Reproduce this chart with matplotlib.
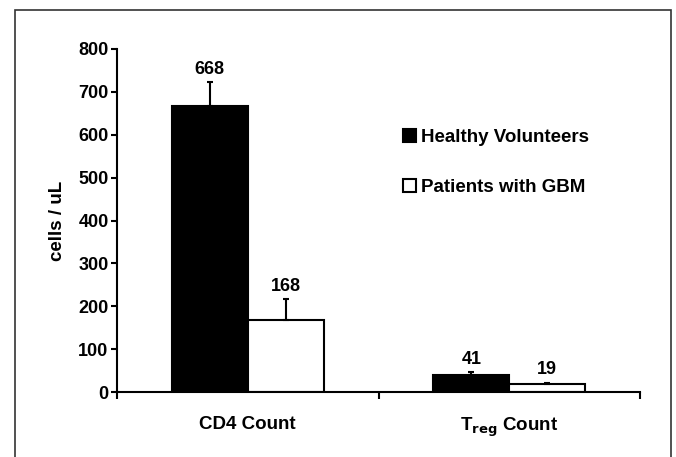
import matplotlib
matplotlib.use('Agg')
import matplotlib.pyplot as plt
import numpy as np
from matplotlib.patches import Rectangle

plt.rcParams['font.family'] = ['Liberation Sans', 'DejaVu Sans']
plt.rcParams['font.weight'] = 'bold'

# counts in cells / uL, with upper error bars
groups = ['CD4 Count', r'T$_{\mathbf{reg}}$ Count']
healthy = [668, 41]
healthy_err = [55, 5]
patients = [168, 19]
patients_err = [49, 3]
series_names = ['Healthy Volunteers', 'Patients with GBM']

fig = plt.figure(figsize=(6.76, 4.57), dpi=100)
ax = fig.add_axes([0.173, 0.142, 0.774, 0.751])

x = np.arange(len(groups))
w = 0.29
lw = 1.5

ax.bar(x - w/2, healthy, w, color='black', edgecolor='black', linewidth=lw,
       label=series_names[0], zorder=2)
ax.bar(x + w/2, patients, w, color='white', edgecolor='black', linewidth=lw,
       label=series_names[1], zorder=2)
ax.errorbar(x - w/2, healthy, yerr=[np.zeros(2), healthy_err], fmt='none',
            ecolor='black', elinewidth=lw, capsize=2.5, capthick=lw, zorder=3)
ax.errorbar(x + w/2, patients, yerr=[np.zeros(2), patients_err], fmt='none',
            ecolor='black', elinewidth=lw, capsize=2.5, capthick=lw, zorder=3)

# value labels above the error bars
for xi, v, e in zip(x - w/2, healthy, healthy_err):
    ax.text(xi, v + e + 10, str(v), ha='center', va='bottom', fontsize=13, fontweight='bold')
for xi, v, e in zip(x + w/2, patients, patients_err):
    ax.text(xi, v + e + 10, str(v), ha='center', va='bottom', fontsize=13, fontweight='bold')

ax.set_xlim(-0.5, 1.5)
ax.set_ylim(0, 800)
ax.set_yticks(np.arange(0, 801, 100))
ax.set_xticks(x)
ax.set_xticklabels(groups, fontsize=13.5, fontweight='bold')
ax.set_xticks([-0.5, 0.5, 1.5], minor=True)
ax.tick_params(axis='x', which='major', length=0, pad=17)
ax.tick_params(axis='x', which='minor', length=5, width=lw, direction='out')
ax.tick_params(axis='y', length=4, width=lw, direction='out', labelsize=13, pad=2)
for lab in ax.get_yticklabels():
    lab.set_fontweight('bold')

for s in ['top', 'right']:
    ax.spines[s].set_visible(False)
for s in ['left', 'bottom']:
    ax.spines[s].set_linewidth(lw)

ax.set_ylabel('cells / uL', fontsize=13.5, fontweight='bold', labelpad=9)

ax.legend(loc='upper left', bbox_to_anchor=(0.515, 0.815), frameon=False,
          handlelength=0.7, handleheight=0.7, handletextpad=0.25,
          labelspacing=1.75, prop={'weight': 'bold', 'size': 13.5})

# frame around the whole figure
fig.patches.append(Rectangle((0.022, -0.05), 0.970, 1.028, transform=fig.transFigure,
                             fill=False, edgecolor='#333333', linewidth=1.2))

fig.savefig('out.png', dpi=100)
plt.close()
